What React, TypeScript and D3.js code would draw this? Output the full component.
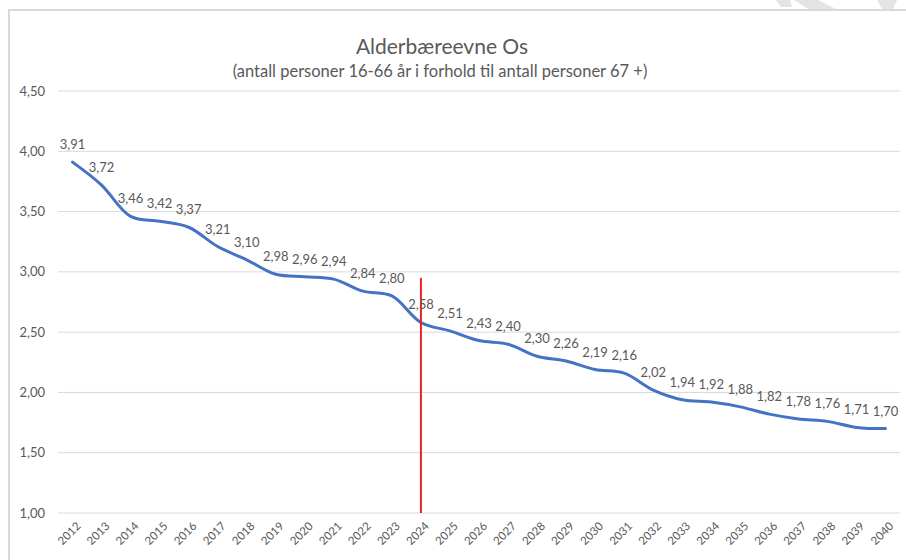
import React, { useEffect, useRef } from 'react';
import * as d3 from 'd3';

// årstall og alderbæreevne
const years = [
  '2012', '2013', '2014', '2015', '2016', '2017', '2018', '2019', '2020', '2021',
  '2022', '2023', '2024', '2025', '2026', '2027', '2028', '2029', '2030', '2031',
  '2032', '2033', '2034', '2035', '2036', '2037', '2038', '2039', '2040',
];
const values = [
  3.91, 3.72, 3.46, 3.42, 3.37, 3.21, 3.10, 2.98, 2.96, 2.94,
  2.84, 2.80, 2.58, 2.51, 2.43, 2.40, 2.30, 2.26, 2.19, 2.16,
  2.02, 1.94, 1.92, 1.88, 1.82, 1.78, 1.76, 1.71, 1.70,
];
const yTicks = [1.0, 1.5, 2.0, 2.5, 3.0, 3.5, 4.0, 4.5];
const markerYear = '2024';
const markerTop = 2.95;

const title = 'Alderbæreevne Os';
const subtitle = '(antall personer 16-66 år i forhold til antall personer 67 +)';

const FONT = 'Lato, "Open Sans", sans-serif';
const fmt = (v: number) => d3.format('.2f')(v).replace('.', ',');

const App = () => {
  const svgRef = useRef<SVGSVGElement>(null);

  useEffect(() => {
    const svg = d3.select(svgRef.current);
    svg.selectAll('*').remove();

    const W = 906;
    const H = 560;

    svg.append('rect').attr('width', W).attr('height', H).attr('fill', '#fff');

    // litt grå striper øverst til høyre (fra skjermbildet)
    const stripes = [
      [[776, 0], [790, 0], [792, 7], [781, 7]],
      [[794, 0], [818, 0], [836, 9], [808, 9]],
      [[877, 0], [897, 0], [893, 9], [882, 9]],
    ];
    svg.selectAll('.stripe')
      .data(stripes)
      .enter().append('polygon')
      .attr('points', d => d.map(p => p.join(',')).join(' '))
      .attr('fill', '#e4e4e4');

    // diagramramme
    svg.append('rect')
      .attr('x', 9)
      .attr('y', 10)
      .attr('width', W + 20)
      .attr('height', H + 20)
      .attr('fill', 'none')
      .attr('stroke', '#d9d9d9')
      .attr('stroke-width', 2);

    const x = d3.scaleBand().domain(years).range([58, 900]).padding(0);
    const y = d3.scaleLinear().domain([1, 4.5]).range([513, 91]);
    const cx = (yr: string) => (x(yr) as number) + x.bandwidth() / 2;

    // titler
    svg.append('text')
      .attr('x', 442).attr('y', 54)
      .attr('text-anchor', 'middle')
      .style('font-family', FONT).style('font-size', '21px')
      .attr('fill', '#595959')
      .text(title);
    svg.append('text')
      .attr('x', 440).attr('y', 77)
      .attr('text-anchor', 'middle')
      .style('font-family', FONT).style('font-size', '16.5px')
      .attr('fill', '#595959')
      .text(subtitle);

    // rutenett
    svg.selectAll('.grid')
      .data(yTicks)
      .enter().append('line')
      .attr('x1', 58).attr('x2', 900)
      .attr('y1', d => y(d)).attr('y2', d => y(d))
      .attr('stroke', '#d9d9d9')
      .attr('stroke-width', 1);

    svg.selectAll('.ytick')
      .data(yTicks)
      .enter().append('text')
      .attr('x', 45)
      .attr('y', d => y(d))
      .attr('dy', '0.35em')
      .attr('text-anchor', 'end')
      .style('font-family', FONT).style('font-size', '13px')
      .attr('fill', '#595959')
      .text(d => fmt(d));

    svg.selectAll('.xtick')
      .data(years)
      .enter().append('text')
      .attr('text-anchor', 'end')
      .attr('transform', d => `translate(${cx(d) + 6},${524}) rotate(-45)`)
      .attr('dy', '0.35em')
      .style('font-family', FONT).style('font-size', '11.5px')
      .attr('fill', '#595959')
      .text(d => d);

    // linjen
    const pts = years.map((yr, i) => [cx(yr), y(values[i])] as [number, number]);
    svg.append('path')
      .datum(pts)
      .attr('d', d3.line().curve(d3.curveCatmullRom.alpha(0.5)))
      .attr('fill', 'none')
      .attr('stroke', '#4472c4')
      .attr('stroke-width', 3)
      .attr('stroke-linejoin', 'round')
      .attr('stroke-linecap', 'round');

    // rød markering for 2024
    svg.append('line')
      .attr('x1', cx(markerYear)).attr('x2', cx(markerYear))
      .attr('y1', y(markerTop)).attr('y2', y(1))
      .attr('stroke', '#f02020')
      .attr('stroke-width', 2);

    // dataetiketter
    svg.selectAll('.lbl')
      .data(values)
      .enter().append('text')
      .attr('x', (d, i) => cx(years[i]))
      .attr('y', d => y(d) - 13)
      .attr('text-anchor', 'middle')
      .style('font-family', FONT).style('font-size', '13px')
      .attr('fill', '#595959')
      .text(d => fmt(d));
  }, []);

  return (
    <svg
      ref={svgRef}
      width={906}
      height={560}
      style={{ position: 'absolute', left: 0, top: 0, display: 'block' }}
    />
  );
};

export default App;
